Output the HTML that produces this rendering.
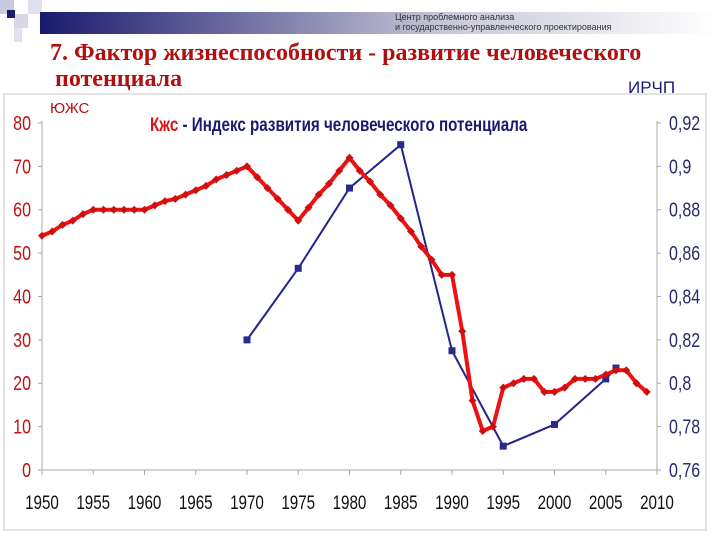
<!DOCTYPE html>
<html><head><meta charset="utf-8">
<style>
body{margin:0;background:#fff;width:720px;height:540px;overflow:hidden;font-family:"Liberation Sans","Noto Sans CJK SC",sans-serif}
svg{display:block}
</style></head>
<body>
<svg width="720" height="540" viewBox="0 0 720 540" xmlns="http://www.w3.org/2000/svg">
<defs>
<linearGradient id="hdr" x1="0" x2="1" y1="0" y2="0">
<stop offset="0" stop-color="#1a1a6e"/><stop offset="0.6" stop-color="#c8c8d8"/><stop offset="1" stop-color="#ffffff"/>
</linearGradient>
</defs>
<g>
<rect x="0" y="0" width="14" height="14" fill="#c8c8e0"/>
<rect x="14" y="14" width="14" height="14" fill="#d8d8e8"/>
<rect x="28" y="0" width="14" height="14" fill="#e0e0ee"/>
<rect x="7" y="10" width="8" height="8" fill="#1a1a6e"/>
<rect x="14" y="28" width="8" height="14" fill="#e0e0ee"/>
<rect x="40" y="12" width="680" height="22" fill="url(#hdr)"/>
</g>
<text x="395" y="20" font-size="9" fill="#333">Центр проблемного анализа</text>
<text x="395" y="30" font-size="9" fill="#333">и государственно-управленческого проектирования</text>
<text x="50" y="60" font-family="Liberation Serif,serif" font-weight="bold" font-size="24" fill="#b01010">7. Фактор жизнеспособности - развитие человеческого</text>
<text x="55" y="86" font-family="Liberation Serif,serif" font-weight="bold" font-size="24" fill="#b01010">потенциала</text>
<text x="628" y="93" font-size="17" fill="#1a1a7a">ИРЧП</text>
<rect x="4" y="94" width="702" height="436" fill="none" stroke="#c8c8c8" stroke-width="1"/>
<text x="50" y="113" font-size="15" fill="#b01010">ЮЖС</text>
<text x="150" y="131" font-size="19" font-weight="bold" transform="translate(150,0) scale(0.8,1) translate(-150,0)"><tspan fill="#dd1111">Кжс</tspan><tspan fill="#1a1a6e"> - Индекс развития человеческого потенциала</tspan></text>
<g id="axes"></g>
<g id="series"></g>
</svg>
<script>
const redYears=[1950,1951,1952,1953,1954,1955,1956,1957,1958,1959,1960,1961,1962,1963,1964,1965,1966,1967,1968,1969,1970,1971,1972,1973,1974,1975,1976,1977,1978,1979,1980,1981,1982,1983,1984,1985,1986,1987,1988,1989,1990,1991,1992,1993,1994,1995,1996,1997,1998,1999,2000,2001,2002,2003,2004,2005,2006,2007,2008,2009];
const redValues=[54,55,56.5,57.5,59,60,60,60,60,60,60,61,62,62.5,63.5,64.5,65.5,67,68,69,70,67.5,65,62.5,60,57.5,60.5,63.5,66,69,72,69,66.5,63.5,61,58,55,51.5,48.5,45,45,32,16,9,10,19,20,21,21,18,18,19,21,21,21,22,23,23,20,18];
const blueYears=[1970,1975,1980,1985,1990,1995,2000,2005,2006];
const blueValues=[0.82,0.853,0.89,0.91,0.815,0.771,0.781,0.802,0.807];
const leftTicks=[0,10,20,30,40,50,60,70,80];
const rightTicks=["0,76","0,78","0,8","0,82","0,84","0,86","0,88","0,9","0,92"];
const rightTickValues=[0.76,0.78,0.80,0.82,0.84,0.86,0.88,0.90,0.92];
const xTicks=[1950,1955,1960,1965,1970,1975,1980,1985,1990,1995,2000,2005,2010];

const NS="http://www.w3.org/2000/svg";
const X0=42,X1=657,Y0=470,Y1=123;
const xs=y=>X0+(y-1950)/60*(X1-X0);
const yl=v=>Y0-v/80*(Y0-Y1);
const yr=v=>Y0-(v-0.76)/0.16*(Y0-Y1);
function mk(tag,attrs,parent){const e=document.createElementNS(NS,tag);for(const k in attrs)e.setAttribute(k,attrs[k]);parent.appendChild(e);return e;}
const ax=document.getElementById('axes'),se=document.getElementById('series');

let l=mk('line',{x1:X0,y1:Y1-2,x2:X0,y2:Y0,stroke:'#aaa'},ax);


l=mk('line',{x1:X1,y1:Y1-2,x2:X1,y2:Y0,stroke:'#aaa'},ax);


l=mk('line',{x1:X0,y1:Y0,x2:X1,y2:Y0,stroke:'#aaa'},ax);



leftTicks.forEach(v=>{
  mk('line',{x1:X0-4,x2:X0,y1:yl(v),y2:yl(v),stroke:'#aaa'},ax);
  const t=mk('text',{x:31,y:yl(v)+7,'font-size':20,fill:'#c01010','text-anchor':'end',transform:`translate(31,0) scale(0.8,1) translate(-31,0)`},ax);
  t.textContent=v;
  
  
});
rightTickValues.forEach((v,i)=>{
  mk('line',{x1:X1,x2:X1+4,y1:yr(v),y2:yr(v),stroke:'#aaa'},ax);
  const t=mk('text',{x:669,y:yr(v)+7,'font-size':20,fill:'#2a2a6e',transform:`translate(669,0) scale(0.8,1) translate(-669,0)`},ax);
  t.textContent=rightTicks[i];
  
  
});
xTicks.forEach(v=>{
  mk('line',{x1:xs(v),x2:xs(v),y1:Y0,y2:Y0+5,stroke:'#aaa'},ax);
  const t=mk('text',{x:xs(v),y:509,'font-size':19,fill:'#111','text-anchor':'middle',transform:`translate(${xs(v)},0) scale(0.8,1) translate(${-xs(v)},0)`},ax);
  t.textContent=v;
  
  
});

let p=mk('polyline',{points:blueYears.map((y,i)=>xs(y)+','+yr(blueValues[i])).join(' '),fill:'none',stroke:'#24248a','stroke-width':2},se);


blueYears.forEach((y,i)=>{
  const m=mk('rect',{x:xs(y)-3.5,y:yr(blueValues[i])-3.5,width:7,height:7,fill:'#2a2a8a'},se);
  
  
});
p=mk('polyline',{points:redYears.map((y,i)=>xs(y)+','+yl(redValues[i])).join(' '),fill:'none',stroke:'#ee1111','stroke-width':4,'stroke-linejoin':'round'},se);


redYears.forEach((y,i)=>{
  const cx=xs(y),cy=yl(redValues[i]);
  const m=mk('polygon',{points:`${cx},${cy-4} ${cx+4},${cy} ${cx},${cy+4} ${cx-4},${cy}`,fill:'#cc1010'},se);
  
  
});
</script>
</body></html>
